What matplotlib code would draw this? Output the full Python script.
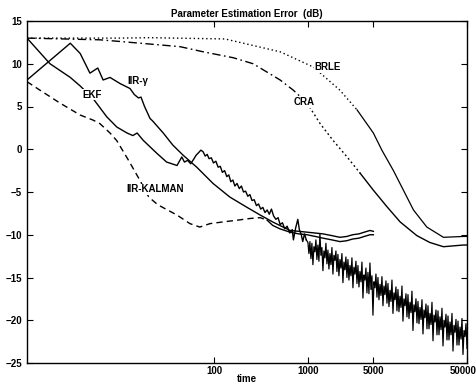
import numpy as np
import matplotlib
matplotlib.use("Agg")
import matplotlib.pyplot as plt
import matplotlib.transforms as mtransforms

# ---------------- data ----------------
brle_t = [1, 10, 20, 130, 505, 1150, 2200, 3350]
brle_v = [13.0, 13.0, 13.05, 12.9, 11.4, 9.6, 6.9, 4.6]
brle2_t = [3350, 5000, 6160, 8190, 10480, 13400, 18620, 28000, 45800, 50000]
brle2_v = [4.6, 1.9, -0.1, -2.5, -4.8, -7.1, -9.1, -10.3, -10.2, -10.2]

cra_t = [1, 6, 10, 43, 76, 160, 260, 505, 700, 980]
cra_v = [13.0, 12.8, 12.6, 12.0, 11.4, 10.7, 10.0, 8.1, 6.9, 5.4]
cra2_t = [980, 1350, 1850, 2620, 3610]
cra2_v = [5.4, 3.0, 1.05, -0.9, -2.8]
cra3_t = [3610, 5010, 6960, 9660, 14560, 20000, 28000, 45800, 50000]
cra3_v = [-2.8, -4.8, -6.7, -8.5, -10.1, -10.9, -11.4, -11.2, -11.2]

ekf_t = [1, 1.76, 2.9, 3.7, 5.1, 7.1, 9.1, 11.7, 13.5, 15, 17.4, 24.5, 31, 40, 45, 48,
         52, 56, 60, 64, 68, 72, 76, 80, 84, 88, 93, 98, 104, 110, 116, 122, 129, 136,
         143, 150, 158, 166, 175, 185, 195, 205, 216, 228, 240, 253, 267, 282, 297, 313,
         330, 348, 367, 387, 408, 430, 455, 480, 505, 535, 565, 600, 640, 680, 700, 740,
         780, 810, 850, 880, 920, 960]
ekf_v = [13.0, 10.0, 8.4, 7.4, 5.9, 3.8, 2.6, 1.9, 1.6, 1.9, 1.05, -0.5, -1.5, -1.9, -0.9, -1.5,
         -1.3, -1.7, -1.2, -0.7, -0.4, -0.1, -0.3, -0.8, -0.6, -1.1, -1.0, -1.6, -1.4, -2.1, -2.0,
         -2.7, -2.5, -3.2, -3.0, -3.8, -3.6, -4.3, -4.0, -4.6, -4.3, -5.0, -4.9, -5.5, -5.3, -6.0,
         -5.9, -6.6, -6.4, -7.0, -6.8, -7.4, -7.1, -7.6, -7.0, -7.8, -8.2, -8.0, -8.8, -8.6, -9.3,
         -9.0, -9.8, -9.4, -10.6, -9.2, -8.2, -9.4, -10.0, -10.8, -9.9, -10.6]
# noisy tail of the EKF curve, 1000 .. 50000 (values read by eye, chunk by chunk)
ekf_tail_v = [
    -10.9, -12.2, -10.8, -12.8, -11.0, -13.5, -11.4, -12.0, -10.6, -12.9,
    -11.2, -13.1, -9.9, -12.4, -11.5, -14.2, -11.9, -12.7, -11.0, -13.4,
    -11.8, -14.0, -12.2, -13.5, -11.5, -14.6, -12.4, -13.0, -11.9, -14.3,
    -12.3, -14.8, -12.9, -13.9, -12.2, -15.6, -13.2, -14.1, -12.6, -15.0,
    -12.9, -15.3, -13.6, -14.8, -12.7, -16.2, -13.8, -14.6, -13.1, -15.7,
    -13.6, -16.1, -14.3, -15.5, -13.2, -17.4, -14.7, -15.3, -13.9, -16.8,
    -14.4, -16.9, -13.3, -16.4, -14.8, -19.4, -15.5, -16.2, -14.6, -17.3,
    -15.0, -17.6, -15.8, -17.1, -14.9, -18.3, -16.0, -17.0, -15.4, -18.0,
    -15.7, -18.4, -16.5, -17.8, -15.3, -19.2, -16.8, -17.6, -16.1, -18.9,
    -16.4, -19.0, -17.2, -18.5, -16.0, -20.1, -17.5, -18.3, -16.9, -19.6,
    -17.0, -19.8, -17.9, -19.1, -16.6, -21.2, -18.2, -19.0, -17.5, -20.3,
    -17.8, -20.4, -18.5, -19.9, -17.6, -21.6, -18.8, -19.7, -18.1, -21.0,
    -18.3, -21.0, -19.2, -20.5, -17.9, -22.4, -19.4, -20.2, -18.8, -21.7,
    -18.9, -21.7, -19.6, -21.1, -18.6, -23.0, -20.0, -20.8, -19.3, -22.3,
    -19.5, -22.3, -20.2, -21.7, -19.2, -23.6, -20.6, -21.4, -19.9, -22.9,
    -20.1, -22.9, -20.8, -22.2, -19.8, -24.0, -21.2, -21.9, -20.4, -23.3,
]
ekf_tail_t = np.geomspace(1000, 50000, len(ekf_tail_v))

iirg_t = [1, 2.9, 3.7, 4.7, 5.7, 6.5, 7.7, 9.8, 12.6, 14, 15.5, 16.5, 18, 20.6, 22, 28.5,
          36, 46.5, 65, 97, 147, 224, 310, 420, 645, 800, 980, 1200, 1450, 1800, 2200,
          2600, 3000, 3500, 4000, 4600, 5000]
iirg_v = [8.1, 12.4, 11.2, 8.9, 9.5, 8.1, 8.4, 7.7, 7.1, 6.4, 6.0, 6.1, 5.0, 3.6, 3.3, 1.9,
          0.5, -0.7, -2.1, -4.0, -5.6, -6.8, -7.7, -8.5, -9.5, -9.6, -9.7, -9.8, -9.9, -10.1,
          -10.3, -10.2, -10.0, -9.9, -9.7, -9.5, -9.6]

kal_t = [1, 1.38, 2.25, 3.7, 5.1, 6.0, 7.7, 9.1, 12, 16, 20, 25, 40, 55, 70, 90, 124, 175,
         240, 310, 367]
kal_v = [7.9, 6.9, 5.4, 4.0, 3.4, 3.0, 1.9, 1.0, -1.2, -3.6, -5.6, -6.5, -7.7, -8.7, -9.1,
         -8.7, -8.5, -8.3, -8.1, -8.0, -8.3]
kal2_t = [367, 420, 500, 645, 800, 980, 1200, 1450, 1800, 2200, 2600, 3000, 3500, 4000,
          4600, 5000]
kal2_v = [-8.3, -8.9, -9.3, -9.7, -9.9, -10.0, -10.2, -10.4, -10.6, -10.8, -10.7, -10.5,
          -10.4, -10.2, -10.0, -10.0]

labels = ["BRLE", "CRA", "IIR-\u03b3", "EKF", "IIR-KALMAN"]
label_t = [1180, 700, 11.7, 3.9, 11.4]
label_v = [9.6, 5.5, 8.0, 6.4, -4.7]

x_ticks = [100, 1000, 5000, 50000]
y_ticks = [-25, -20, -15, -10, -5, 0, 5, 10, 15]

# ---------------- figure ----------------
plt.rcParams['font.family'] = ['Liberation Sans', 'DejaVu Sans']
fig = plt.figure(figsize=(4.77, 3.86), dpi=100)
ax = fig.add_axes([27 / 477, 1 - 363 / 386, 440 / 477, 342 / 386])

k = dict(color='black', lw=1.0)
ax.plot(brle_t, brle_v, linestyle=(0, (1, 2)), **k)
ax.plot(brle2_t, brle2_v, linestyle='-', color='black', lw=0.9)
ax.plot(cra_t, cra_v, linestyle=(0, (6, 2.5, 1.2, 2.5)), **k)
ax.plot(cra2_t, cra2_v, linestyle=(0, (1.3, 2)), **k)
ax.plot(cra3_t, cra3_v, linestyle='-', **k)
ax.plot(ekf_t, ekf_v, linestyle='-', **k)
ax.plot(np.concatenate([[960], ekf_tail_t]), [-10.6] + ekf_tail_v, linestyle='-', color='black', lw=0.9)
ax.plot(iirg_t, iirg_v, linestyle='-', **k)
ax.plot(kal_t, kal_v, linestyle=(0, (4.5, 3)), **k)
ax.plot(kal2_t, kal2_v, linestyle='-', **k)

for s, t, v in zip(labels, label_t, label_v):
    ax.text(t, v, s, fontsize=7, fontweight='bold', ha='left', va='center',
            bbox=dict(facecolor='white', edgecolor='none', pad=0.3))

ax.set_xscale('log')
ax.set_xlim(1, 50000)
ax.set_ylim(-25, 15)
ax.set_xticks(x_ticks)
ax.set_xticklabels([str(v) for v in x_ticks])
ax.xaxis.set_minor_locator(matplotlib.ticker.NullLocator())
ax.set_yticks(y_ticks)
ax.tick_params(direction='in', top=True, right=True, labelsize=7, length=4, width=0.8)
ax.tick_params(axis='x', pad=2)
for lab in ax.get_xticklabels() + ax.get_yticklabels():
    lab.set_fontweight('bold')
# keep the last x label inside the image
last = ax.get_xticklabels()[-1]
last.set_transform(last.get_transform() + mtransforms.ScaledTranslation(-4 / 100, 0, fig.dpi_scale_trans))
for sp in ax.spines.values():
    sp.set_linewidth(1.0)

ax.set_title('Parameter Estimation Error  (dB)', fontsize=7, fontweight='bold', pad=3)
ax.set_xlabel('time', fontsize=7, fontweight='bold', labelpad=-1)

fig.savefig('out.png', dpi=100)
